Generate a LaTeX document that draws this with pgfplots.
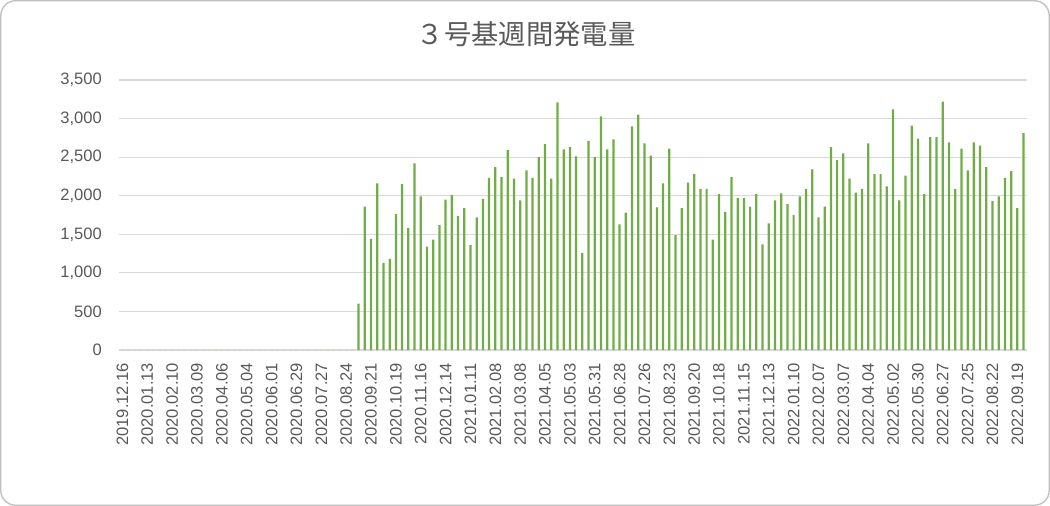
\documentclass[border=0pt]{standalone}
\usepackage{pgfplots}
\pgfplotsset{compat=1.18}
\usepackage{pgfplotstable}
\usepackage{fontspec}
\setmainfont{Liberation Sans}
\newfontfamily\cjk{Noto Sans CJK JP}
\definecolor{barc}{HTML}{70AD47}
\definecolor{gridc}{HTML}{D9D9D9}
\definecolor{txtc}{HTML}{595959}
\definecolor{borderc}{HTML}{BFBFBF}
\pgfplotstableread{
x y
0 0
1 0
2 0
3 0
4 0
5 0
6 0
7 0
8 0
9 0
10 0
11 0
12 0
13 0
14 0
15 0
16 0
17 0
18 0
19 0
20 0
21 0
22 0
23 0
24 0
25 0
26 0
27 0
28 0
29 0
30 0
31 0
32 0
33 0
34 0
35 0
36 0
37 0
38 600
39 1860
40 1440
41 2160
42 1130
43 1180
44 1760
45 2150
46 1580
47 2420
48 1990
49 1340
50 1430
51 1620
52 1950
53 2010
54 1740
55 1840
56 1360
57 1720
58 1960
59 2230
60 2370
61 2240
62 2590
63 2220
64 1940
65 2330
66 2230
67 2500
68 2670
69 2220
70 3210
71 2600
72 2630
73 2510
74 1260
75 2710
76 2500
77 3030
78 2600
79 2730
80 1630
81 1780
82 2900
83 3050
84 2680
85 2520
86 1850
87 2160
88 2610
89 1490
90 1840
91 2170
92 2280
93 2090
94 2090
95 1430
96 2020
97 1790
98 2240
99 1970
100 1970
101 1860
102 2020
103 1370
104 1640
105 1940
106 2030
107 1890
108 1750
109 1990
110 2090
111 2340
112 1720
113 1860
114 2630
115 2460
116 2550
117 2220
118 2040
119 2090
120 2680
121 2280
122 2280
123 2120
124 3120
125 1940
126 2260
127 2910
128 2740
129 2020
130 2760
131 2760
132 3220
133 2690
134 2090
135 2610
136 2330
137 2690
138 2650
139 2370
140 1930
141 1990
142 2230
143 2320
144 1840
145 2810
}\weekly
\begin{document}
\begin{tikzpicture}
\useasboundingbox (0,0) rectangle (787.5pt,-379.5pt);
\draw[borderc, line width=1pt, rounded corners=11pt] (0.6pt,-0.6pt) rectangle (786.9pt,-378.9pt);
\node[text=txtc, font=\cjk\fontsize{20.5pt}{24pt}\selectfont] at (394.5pt,-25.5pt) {３号基週間発電量};
\begin{axis}[
  at={(89.5pt,-262.5pt)}, anchor=south west,
  scale only axis, width=680.5pt, height=202.5pt,
  xmin=-0.5, xmax=145.5, ymin=0, ymax=3500,
  ybar, bar width=0.36,
  axis x line=bottom, axis y line=left,
  x axis line style={draw=gridc, line width=0.9pt, -},
  y axis line style={draw=none},
  tick style={draw=none}, major tick length=0pt,
  ytick={0,500,...,3500},
  ymajorgrids, grid style={draw=gridc, line width=0.9pt},
  xtick={0,4,...,144},
  xticklabels={2019.12.16,2020.01.13,2020.02.10,2020.03.09,2020.04.06,2020.05.04,2020.06.01,2020.06.29,2020.07.27,2020.08.24,2020.09.21,2020.10.19,2020.11.16,2020.12.14,2021.01.11,2021.02.08,2021.03.08,2021.04.05,2021.05.03,2021.05.31,2021.06.28,2021.07.26,2021.08.23,2021.09.20,2021.10.18,2021.11.15,2021.12.13,2022.01.10,2022.02.07,2022.03.07,2022.04.04,2022.05.02,2022.05.30,2022.06.27,2022.07.25,2022.08.22,2022.09.19},
  xticklabel style={rotate=90, anchor=east, inner sep=0pt, xshift=-9.5pt, text=txtc, font=\fontsize{12.4pt}{14pt}\selectfont},
  yticklabel style={anchor=east, inner sep=0pt, xshift=-13pt, text=txtc, font=\fontsize{12.4pt}{14pt}\selectfont},
  /pgf/number format/.cd, 1000 sep={,}, assume math mode=true,
]
\addplot[fill=barc, draw=none] table[x=x, y=y] {\weekly};
\end{axis}
\end{tikzpicture}
\end{document}
